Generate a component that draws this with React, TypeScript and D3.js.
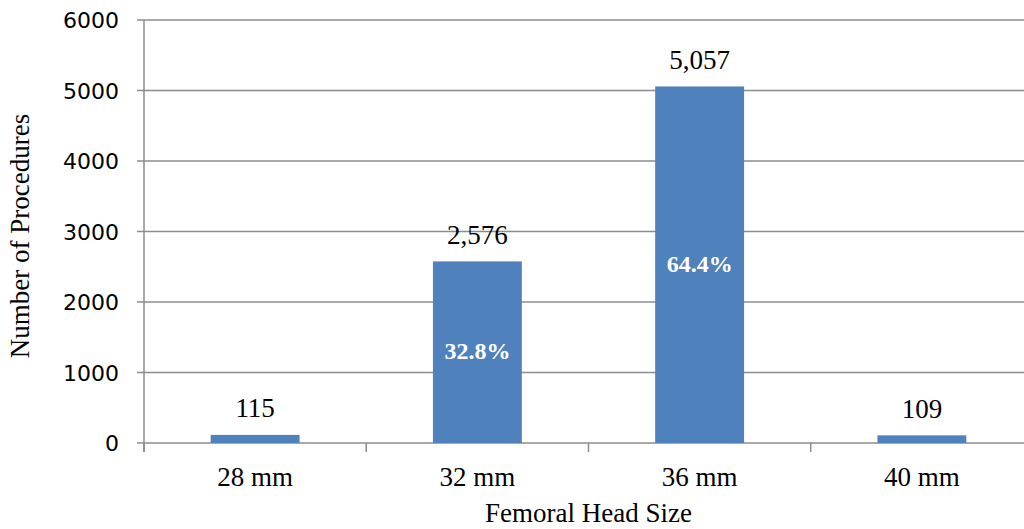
import React from "react";
import * as d3 from "d3";

const categories = ["28 mm", "32 mm", "36 mm", "40 mm"];
const values = [115, 2576, 5057, 109];
const valueLabels = ["115", "2,576", "5,057", "109"];
const pctLabels = ["", "32.8%", "64.4%", ""];
const yTicks = [0, 1000, 2000, 3000, 4000, 5000, 6000];

const W = 1024;
const H = 529;
const left = 144;
const right = 1033;
const top = 20;
const bottom = 443;
const serif = "'Liberation Serif', 'Times New Roman', serif";
const sans = "'DejaVu Sans', Verdana, sans-serif";
const grid = "#8c8c8c";

export default function App() {
  const x = d3.scaleBand<string>().domain(categories).range([left, right]).paddingInner(0.6).paddingOuter(0.3);
  const y = d3.scaleLinear().domain([0, 6000]).range([bottom, top]);
  const step = (right - left) / categories.length;
  return (
    <svg width={W} height={H} style={{ position: "absolute", left: 0, top: 0, background: "#fff" }}>
      {yTicks.map((t) => (
        <g key={t}>
          <line x1={left - 7} x2={right} y1={y(t)} y2={y(t)} stroke={grid} strokeWidth={1.5} />
          <text x={119} y={y(t) + 8} textAnchor="end" fontFamily={sans} fontSize={22} fill="#000">
            {t}
          </text>
        </g>
      ))}
      <line x1={left} x2={left} y1={top} y2={bottom + 9} stroke={grid} strokeWidth={1.5} />
      {d3.range(categories.length + 1).map((i) => (
        <line key={i} x1={left + i * step} x2={left + i * step} y1={bottom} y2={bottom + 9} stroke={grid} strokeWidth={1.5} />
      ))}
      {categories.map((c, i) => {
        const bx = x(c)!;
        const bw = x.bandwidth();
        const cx = bx + bw / 2;
        const yt = y(values[i]);
        return (
          <g key={c}>
            <rect x={bx} y={yt} width={bw} height={bottom - yt} fill="#4F81BD" />
            <text x={cx} y={yt - 17.5} textAnchor="middle" fontFamily={serif} fontSize={27} fill="#000">
              {valueLabels[i]}
            </text>
            {pctLabels[i] && (
              <text x={cx} y={(yt + bottom) / 2 + 7} textAnchor="middle" fontFamily={serif} fontWeight="bold" fontSize={24} fill="#fff">
                {pctLabels[i]}
              </text>
            )}
            <text x={cx} y={486} textAnchor="middle" fontFamily={serif} fontSize={27} fill="#000">
              {c}
            </text>
          </g>
        );
      })}
      <text x={(left + right) / 2} y={522} textAnchor="middle" fontFamily={serif} fontSize={27} fill="#000">
        Femoral Head Size
      </text>
      <text transform={`translate(29,236) rotate(-90)`} textAnchor="middle" fontFamily={serif} fontSize={27} fill="#000">
        Number of Procedures
      </text>
    </svg>
  );
}
